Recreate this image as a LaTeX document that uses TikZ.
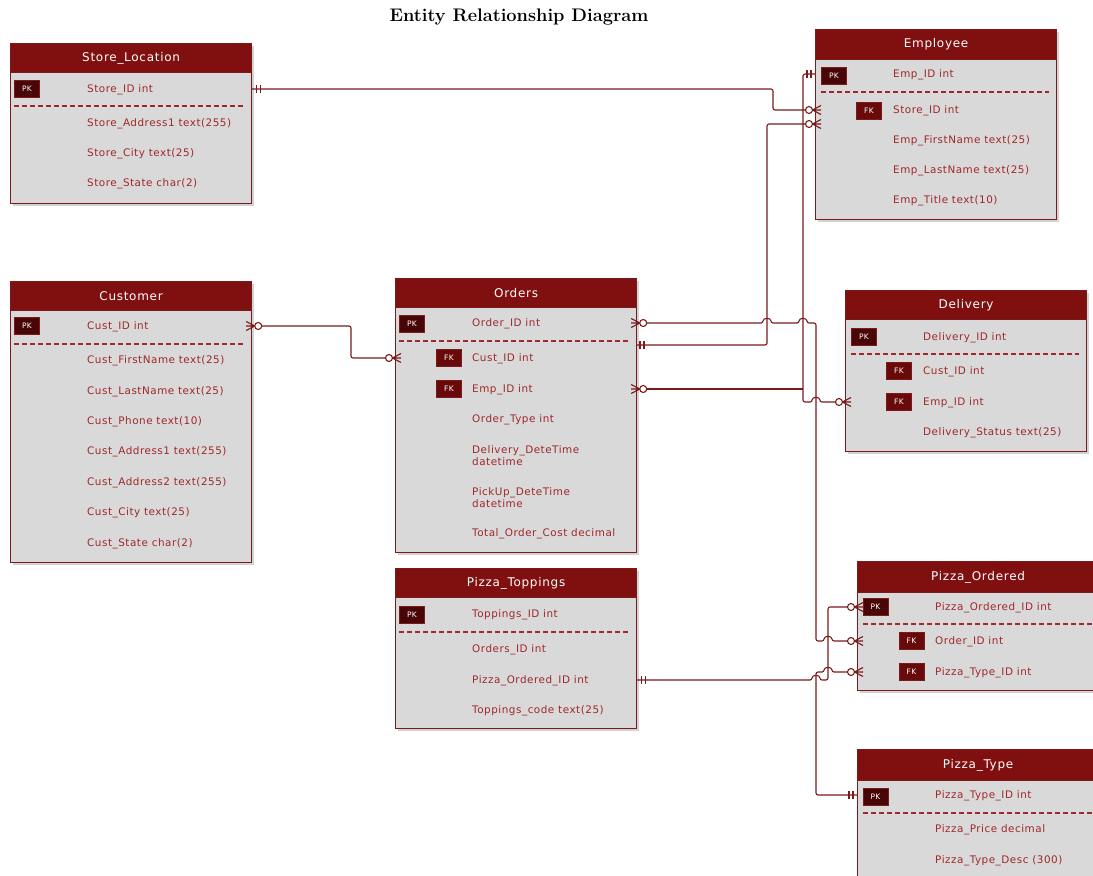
\documentclass[tikz,border=0pt]{standalone}
\usepackage{fontspec}
\usepackage{tikz}
\usetikzlibrary{calc,shadows}
\newfontfamily\fldfont[LetterSpace=5]{DejaVu Sans}
\newfontfamily\hdrfont[LetterSpace=6]{DejaVu Sans}
\definecolor{erdred}{RGB}{128,16,16}
\definecolor{erdline}{RGB}{122,26,26}
\definecolor{erdtext}{RGB}{160,40,42}
\definecolor{erdgray}{RGB}{217,217,217}
\definecolor{pkfill}{RGB}{72,6,6}
\definecolor{fkfill}{RGB}{105,10,10}
\tikzset{
  one/.pic={\draw[erdline, line width=1.1pt] (-4,-4) -- (-4,4) (-8,-4) -- (-8,4);},
  zmany/.pic={\draw[erdline, line width=1.1pt] (-2.5,0) -- (6,0) (-2.5,0) -- (6,-4.5)
      (-2.5,0) -- (6,4.5);
    \draw[erdline, line width=1.1pt, fill=white] (-6,0) circle[radius=3.5];}
}

\begin{document}
\begin{tikzpicture}[x=1pt, y=-1pt,
  entity/.style={draw=erdline, line width=1.2pt, fill=erdgray, anchor=north west,
    inner sep=0pt, minimum width=241pt,
    drop shadow={shadow xshift=2pt, shadow yshift=-2pt, opacity=0.35}},
  hdr/.style={draw=erdline, line width=1.2pt, fill=erdred, text=white, anchor=north west,
    inner sep=0pt, minimum width=241pt, minimum height=29pt,
    font=\hdrfont\fontsize{12}{14}\selectfont},
  fld/.style={anchor=west, inner sep=0pt, text=erdtext, text height=7.5pt, text depth=0pt,
    font=\fldfont\fontsize{10.4}{12.5}\selectfont},
  pkbox/.style={fill=pkfill, draw=erdline, line width=0.6pt, text=white, inner sep=0pt,
    minimum width=25pt, minimum height=17pt, font=\fldfont\fontsize{7.5}{8}\selectfont},
  fkbox/.style={pkbox, fill=fkfill},
  rowline/.style={draw=erdtext, line width=1.4pt, dash pattern=on 5pt off 3pt},
  rel/.style={draw=erdline, line width=1.1pt, rounded corners=2pt}]
\useasboundingbox (0,0) rectangle (1093,876);
\clip (0,0) rectangle (1093,876);

\node[font=\bfseries\fontsize{18.2}{21}\selectfont] (title) at (519,17)
  {Entity Relationship Diagram};

\node[entity, minimum height=160pt] (store) at (10,43) {};
\node[hdr] (store-h) at (10,43) {Store\_Location};
\node[pkbox] (store-pk) at (27,89) {PK};
\node[fld] (store-id) at (87,89) {Store\_ID int};
\draw[rowline] (14,106) -- (244,106);
\foreach \t [count=\i] in {Store\_Address1 text(255), Store\_City text(25),
    Store\_State char(2)}
  \node[fld] (store-f\i) at (87,{123+30*(\i-1)}) {\t};

\node[entity, minimum height=190pt] (emp) at (815,29) {};
\node[hdr, minimum height=30pt] (emp-h) at (815,29) {Employee};
\node[pkbox] (emp-pk) at (834,75.5) {PK};
\node[fld] (emp-id) at (893,74) {Emp\_ID int};
\draw[rowline] (821,92) -- (1049,92);
\node[fkbox] (emp-fk) at (869,110.5) {FK};
\node[fld] (emp-store) at (893,110) {Store\_ID int};
\foreach \t [count=\i] in {Emp\_FirstName text(25), Emp\_LastName text(25),
    Emp\_Title text(10)}
  \node[fld] (emp-f\i) at (893,{140+30*(\i-1)}) {\t};

\node[entity, minimum height=281pt] (cust) at (10,281) {};
\node[hdr] (cust-h) at (10,281) {Customer};
\node[pkbox] (cust-pk) at (27,325.5) {PK};
\node[fld] (cust-id) at (87,326) {Cust\_ID int};
\draw[rowline] (14,344) -- (244,344);
\foreach \t [count=\i] in {Cust\_FirstName text(25), Cust\_LastName text(25),
    Cust\_Phone text(10), Cust\_Address1 text(255), Cust\_Address2 text(255),
    Cust\_City text(25), Cust\_State char(2)}
  \node[fld] (cust-f\i) at (87,{360+30.4*(\i-1)}) {\t};

\node[entity, minimum height=274pt] (ord) at (395,278) {};
\node[hdr] (ord-h) at (395,278) {Orders};
\node[pkbox] (ord-pk) at (412,323.5) {PK};
\node[fld] (ord-id) at (472,323) {Order\_ID int};
\draw[rowline] (399,341) -- (629,341);
\node[fkbox] (ord-fk1) at (449,358) {FK};
\node[fld] (ord-cust) at (472,358) {Cust\_ID int};
\node[fkbox] (ord-fk2) at (449,389) {FK};
\node[fld] (ord-emp) at (472,389) {Emp\_ID int};
\node[fld] (ord-type) at (472,419) {Order\_Type int};
\node[fld, align=left] (ord-deliv) at (472,462) {Delivery\_DeteTime\\datetime};
\node[fld, align=left] (ord-pick) at (472,504) {PickUp\_DeteTime\\datetime};
\node[fld] (ord-cost) at (472,533) {Total\_Order\_Cost decimal};

\node[entity, minimum height=161pt] (del) at (845,290) {};
\node[hdr] (del-h) at (845,290) {Delivery};
\node[pkbox] (del-pk) at (864,336.5) {PK};
\node[fld] (del-id) at (923,337) {Delivery\_ID int};
\draw[rowline] (851,354) -- (1079,354);
\node[fkbox] (del-fk1) at (899,371) {FK};
\node[fld] (del-cust) at (923,371) {Cust\_ID int};
\node[fkbox] (del-fk2) at (899,402) {FK};
\node[fld] (del-emp) at (923,402) {Emp\_ID int};
\node[fld] (del-stat) at (923,432) {Delivery\_Status text(25)};

\node[entity, minimum height=160pt] (topp) at (395,568) {};
\node[hdr] (topp-h) at (395,568) {Pizza\_Toppings};
\node[pkbox] (topp-pk) at (412,614.5) {PK};
\node[fld] (topp-id) at (472,614) {Toppings\_ID int};
\draw[rowline] (399,632) -- (629,632);
\node[fld] (top-ord) at (472,649) {Orders\_ID int};
\node[fld] (top-pord) at (472,680) {Pizza\_Ordered\_ID int};
\node[fld] (top-code) at (472,710) {Toppings\_code text(25)};

\node[entity, minimum height=129pt] (pord) at (857,561) {};
\node[hdr, minimum height=31pt] (pord-h) at (857,561) {Pizza\_Ordered};
\node[pkbox] (pord-pk) at (875.5,607) {PK};
\node[fld] (pord-id) at (935,607) {Pizza\_Ordered\_ID int};
\draw[rowline] (863,624) -- (1093,624);
\node[fkbox] (pord-fk1) at (911.5,641) {FK};
\node[fld] (pord-ord) at (935,641) {Order\_ID int};
\node[fkbox] (pord-fk2) at (911.5,672) {FK};
\node[fld] (pord-type) at (935,672) {Pizza\_Type\_ID int};

\node[entity, minimum height=160pt] (ptype) at (857,749) {};
\node[hdr, minimum height=31pt] (ptype-h) at (857,749) {Pizza\_Type};
\node[pkbox] (ptype-pk) at (875.5,796.5) {PK};
\node[fld] (ptype-id) at (935,795) {Pizza\_Type\_ID int};
\draw[rowline] (863,813) -- (1093,813);
\node[fld] (ptype-f1) at (935,829) {Pizza\_Price decimal};
\node[fld] (ptype-f2) at (935,860) {Pizza\_Type\_Desc (300)};

\coordinate (laneS) at (773,0);
\coordinate (laneO) at (767,0);
\coordinate (laneE) at (803,0);
\coordinate (laneD) at (816,0);
\coordinate (laneP) at (828,0);
\coordinate (laneC) at (351,0);
\coordinate (ordlink) at (636,345);
\coordinate (emplink) at (815,124);

\draw[rel] (store-id -| store.east) -- (laneS |- store-id) -- (laneS |- emp-store)
  -- (emp-store -| emp.west);
\draw[rel] (emp-id -| emp.west) -- (laneE |- emp-id) -- (laneE |- del-emp)
  -- ($(laneD |- del-emp)+(-4,0)$) .. controls +(0,-5.5) and +(0,-5.5)
  .. ($(laneD |- del-emp)+(4,0)$) -- (del-emp -| del.west);
\draw[rel] (ord-emp -| ord.east) -- (laneE |- ord-emp);
\draw[rel] (ord-id -| ord.east)
  -- ($(laneO |- ord-id)+(-4,0)$) .. controls +(0,-5.5) and +(0,-5.5)
  .. ($(laneO |- ord-id)+(4,0)$)
  -- ($(laneE |- ord-id)+(-4,0)$) .. controls +(0,-5.5) and +(0,-5.5)
  .. ($(laneE |- ord-id)+(4,0)$)
  -- (laneD |- ord-id) -- (laneD |- pord-ord)
  -- ($(laneP |- pord-ord)+(-4,0)$) .. controls +(0,-5.5) and +(0,-5.5)
  .. ($(laneP |- pord-ord)+(4,0)$) -- (pord-ord -| pord.west);
\draw[rel] (ordlink) -- (laneO |- ordlink) -- (laneO |- emplink) -- (emplink);
\draw[rel] (cust-id -| cust.east) -- (laneC |- cust-id) -- (laneC |- ord-cust)
  -- (ord-cust -| ord.west);
\draw[rel] (top-pord -| topp.east)
  -- ($(laneD |- top-pord)+(-4,0)$) .. controls +(0,-5.5) and +(0,-5.5)
  .. ($(laneD |- top-pord)+(4,0)$)
  -- (laneP |- top-pord) -- (laneP |- pord-id) -- (pord-id -| pord.west);
\draw[rel] (ptype-id -| ptype.west) -- (laneD |- ptype-id) -- (laneD |- pord-type)
  -- ($(laneP |- pord-type)+(-4,0)$) .. controls +(0,-5.5) and +(0,-5.5)
  .. ($(laneP |- pord-type)+(4,0)$) -- (pord-type -| pord.west);

\pic[rotate=180] at (store-id -| store.east) {one};
\pic at (emp-store -| emp.west) {zmany};
\pic at (emp-id -| emp.west) {one};
\pic[rotate=180] at (ord-emp -| ord.east) {zmany};
\pic at (del-emp -| del.west) {zmany};
\pic[rotate=180] at (ord-id -| ord.east) {zmany};
\pic at (pord-ord -| pord.west) {zmany};
\pic[rotate=180] at (ordlink) {one};
\pic at (emplink) {zmany};
\pic[rotate=180] at (cust-id -| cust.east) {zmany};
\pic at (ord-cust -| ord.west) {zmany};
\pic[rotate=180] at (top-pord -| topp.east) {one};
\pic at (pord-id -| pord.west) {zmany};
\pic at (ptype-id -| ptype.west) {one};
\pic at (pord-type -| pord.west) {zmany};
\end{tikzpicture}
\end{document}
